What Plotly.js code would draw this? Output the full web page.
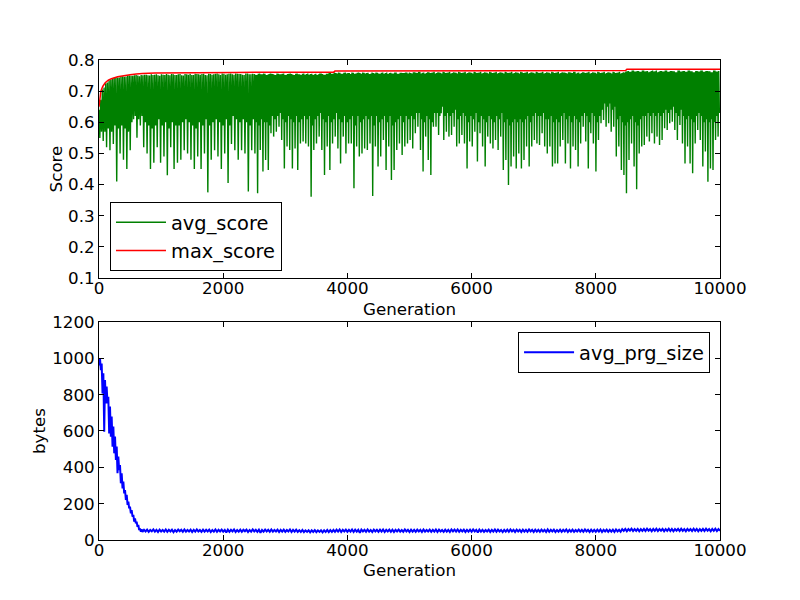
<!DOCTYPE html>
<html>
<head>
<meta charset="utf-8">
<script src="https://cdn.plot.ly/plotly-3.0.1.min.js"></script>
<style>html,body{margin:0;padding:0;background:#fff;}#chart{width:800px;height:600px;}</style>
</head>
<body>
<div id="chart"></div>
<script>
// ---- Data ----
const genMax = 10000;
const segBounds = [0, 2500, 5000, 7500, 10000];

// avg_score band, per segment of generations: top (two readings), spike bottom, solid floor
const avgHighA = [0.640,0.705,0.725,0.735,0.741,0.745,0.744,0.748,0.747,0.750,0.749,0.752,0.748,0.751,0.753,0.750,0.752,0.754,0.749,0.753,0.755,0.751,0.754,0.752,0.755,0.750,0.754,0.756,0.752,0.755,0.753,0.756,0.751,0.755,0.754,0.757,0.752,0.756,0.754,0.757,0.753,0.756,0.755,0.752,0.757,0.754];
const avgHigh2A = [0.672,0.712,0.728,0.737,0.743,0.744,0.747,0.746,0.750,0.749,0.751,0.750,0.752,0.753,0.751,0.754,0.753,0.751,0.754,0.752,0.753,0.755,0.752,0.754,0.751,0.755,0.753,0.752,0.756,0.754,0.755,0.752,0.756,0.753,0.756,0.754,0.757,0.753,0.756,0.754,0.757,0.755,0.753,0.757,0.754,0.756];
const avgLowA = [0.55,0.54,0.52,0.51,0.53,0.41,0.50,0.48,0.45,0.51,0.61,0.55,0.59,0.52,0.50,0.45,0.47,0.52,0.47,0.49,0.43,0.52,0.45,0.47,0.48,0.51,0.50,0.48,0.45,0.49,0.45,0.50,0.375,0.48,0.51,0.49,0.45,0.50,0.405,0.53,0.51,0.48,0.51,0.50,0.378,0.51];
const avgFloorA = [0.57,0.57,0.58,0.57,0.59,0.58,0.59,0.58,0.57,0.60,0.62,0.61,0.62,0.60,0.59,0.58,0.59,0.61,0.59,0.60,0.58,0.60,0.59,0.59,0.60,0.61,0.60,0.59,0.58,0.60,0.59,0.61,0.59,0.60,0.61,0.60,0.59,0.61,0.59,0.62,0.61,0.60,0.61,0.60,0.59,0.61];

const avgHighB = [0.755,0.752,0.757,0.754,0.756,0.753,0.757,0.755,0.752,0.756,0.754,0.757,0.753,0.756,0.755,0.752,0.757,0.754,0.756,0.753,0.757,0.755,0.752,0.756,0.754,0.757,0.753,0.756,0.758,0.755,0.760,0.757,0.759,0.756,0.760,0.758,0.755,0.759,0.757,0.760,0.756,0.759,0.758,0.755,0.760,0.757,0.759,0.756,0.760,0.758,0.755,0.759,0.757,0.760,0.756,0.759,0.758,0.760];
const avgHigh2B = [0.753,0.756,0.754,0.757,0.752,0.755,0.756,0.753,0.757,0.754,0.756,0.752,0.755,0.757,0.753,0.756,0.754,0.752,0.757,0.755,0.753,0.756,0.754,0.752,0.757,0.755,0.753,0.756,0.759,0.757,0.758,0.760,0.756,0.759,0.757,0.758,0.760,0.756,0.759,0.758,0.760,0.757,0.759,0.756,0.758,0.760,0.757,0.759,0.756,0.760,0.758,0.757,0.760,0.756,0.759,0.758,0.760,0.757];
const avgLowB = [0.50,0.372,0.511,0.442,0.479,0.447,0.565,0.554,0.570,0.586,0.543,0.452,0.522,0.511,0.452,0.516,0.447,0.532,0.538,0.532,0.522,0.361,0.511,0.532,0.554,0.511,0.431,0.522,0.447,0.532,0.554,0.516,0.468,0.554,0.500,0.532,0.532,0.388,0.522,0.490,0.500,0.516,0.511,0.532,0.363,0.522,0.458,0.490,0.543,0.447,0.522,0.415,0.447,0.511,0.532,0.495,0.522,0.532];
const avgFloorB = [0.60,0.59,0.61,0.60,0.60,0.59,0.62,0.61,0.62,0.63,0.61,0.60,0.62,0.61,0.60,0.62,0.60,0.61,0.62,0.61,0.62,0.59,0.61,0.62,0.63,0.61,0.60,0.62,0.60,0.61,0.63,0.61,0.60,0.62,0.60,0.61,0.62,0.59,0.62,0.60,0.61,0.62,0.61,0.62,0.59,0.62,0.60,0.61,0.62,0.60,0.62,0.59,0.60,0.61,0.62,0.60,0.62,0.61];

const avgHighC = [0.760,0.757,0.761,0.758,0.762,0.759,0.756,0.761,0.758,0.760,0.757,0.761,0.759,0.762,0.758,0.760,0.757,0.761,0.759,0.762,0.758,0.760,0.757,0.761,0.759,0.762,0.758,0.760,0.757,0.761,0.759,0.762,0.758,0.760,0.757,0.761,0.759,0.762,0.758,0.760,0.757,0.761,0.759,0.762,0.758,0.760,0.757,0.761,0.759,0.762,0.758,0.760,0.757,0.761,0.759,0.762,0.758,0.760,0.757,0.761];
const avgHigh2C = [0.758,0.761,0.759,0.762,0.757,0.760,0.758,0.761,0.759,0.762,0.758,0.760,0.757,0.761,0.759,0.762,0.758,0.760,0.757,0.761,0.759,0.762,0.758,0.760,0.757,0.761,0.759,0.762,0.758,0.760,0.757,0.761,0.759,0.762,0.758,0.760,0.757,0.761,0.759,0.762,0.758,0.760,0.757,0.761,0.759,0.762,0.758,0.760,0.757,0.761,0.759,0.762,0.758,0.760,0.757,0.761,0.759,0.762,0.758,0.760];
const avgLowC = [0.543,0.516,0.565,0.586,0.511,0.442,0.554,0.479,0.431,0.586,0.586,0.559,0.629,0.543,0.570,0.554,0.559,0.586,0.522,0.532,0.559,0.532,0.452,0.538,0.522,0.570,0.474,0.565,0.522,0.458,0.554,0.532,0.516,0.543,0.511,0.554,0.447,0.479,0.399,0.458,0.490,0.452,0.500,0.452,0.479,0.522,0.458,0.522,0.543,0.532,0.527,0.565,0.522,0.500,0.522,0.458,0.468,0.468,0.522,0.543];
const avgFloorC = [0.62,0.61,0.63,0.63,0.61,0.60,0.62,0.61,0.60,0.63,0.63,0.62,0.65,0.62,0.63,0.62,0.63,0.64,0.61,0.62,0.63,0.62,0.60,0.62,0.61,0.63,0.60,0.62,0.61,0.60,0.62,0.61,0.60,0.62,0.61,0.63,0.60,0.61,0.59,0.60,0.61,0.60,0.61,0.60,0.61,0.62,0.60,0.62,0.63,0.62,0.62,0.63,0.61,0.61,0.62,0.60,0.61,0.60,0.62,0.63];

const avgHighD = [0.760,0.757,0.761,0.758,0.762,0.759,0.756,0.761,0.758,0.760,0.757,0.761,0.759,0.762,0.758,0.760,0.757,0.761,0.759,0.762,0.758,0.760,0.757,0.761,0.763,0.765,0.762,0.766,0.763,0.765,0.762,0.766,0.764,0.761,0.765,0.763,0.766,0.762,0.765,0.763,0.766,0.762,0.765,0.764,0.761,0.766,0.763,0.765,0.762,0.766,0.764,0.761,0.765,0.763,0.766,0.762,0.765,0.764,0.761,0.766,0.763];
const avgHigh2D = [0.758,0.761,0.759,0.762,0.757,0.760,0.758,0.761,0.759,0.762,0.758,0.760,0.757,0.761,0.759,0.762,0.758,0.760,0.757,0.761,0.759,0.762,0.758,0.760,0.764,0.762,0.766,0.763,0.765,0.762,0.766,0.763,0.765,0.762,0.766,0.764,0.761,0.765,0.763,0.766,0.762,0.765,0.764,0.761,0.766,0.763,0.765,0.762,0.766,0.764,0.761,0.765,0.763,0.766,0.762,0.765,0.764,0.761,0.766,0.763,0.765];
const avgLowD = [0.468,0.532,0.452,0.522,0.511,0.458,0.532,0.586,0.538,0.452,0.565,0.532,0.442,0.543,0.597,0.607,0.586,0.597,0.570,0.586,0.490,0.522,0.447,0.431,0.372,0.479,0.532,0.458,0.385,0.500,0.522,0.527,0.554,0.538,0.565,0.532,0.554,0.527,0.543,0.581,0.575,0.597,0.602,0.575,0.543,0.591,0.532,0.468,0.522,0.468,0.436,0.532,0.575,0.543,0.458,0.506,0.409,0.452,0.447,0.543,0.554];
const avgFloorD = [0.61,0.62,0.60,0.62,0.61,0.60,0.62,0.63,0.62,0.60,0.63,0.62,0.60,0.62,0.64,0.66,0.65,0.66,0.64,0.65,0.61,0.62,0.60,0.59,0.60,0.61,0.62,0.60,0.59,0.61,0.62,0.62,0.63,0.62,0.63,0.62,0.63,0.62,0.63,0.64,0.63,0.64,0.65,0.63,0.62,0.64,0.62,0.61,0.62,0.61,0.60,0.62,0.63,0.62,0.60,0.61,0.60,0.61,0.60,0.62,0.63];

// max_score
const maxGen = [0,30,60,100,150,200,300,400,500,600,700,900,1200,1600,2200,3000,3780,3800,5000,6500,8480,8500,10000];
const maxVal = [0.650,0.700,0.715,0.727,0.735,0.740,0.746,0.750,0.753,0.755,0.757,0.758,0.759,0.760,0.760,0.761,0.761,0.765,0.765,0.766,0.766,0.770,0.770];

// avg_prg_size: early decline
const prgEarlyGen = [0,16,30,43,57,70,84,97,110,123,137,150,164,177,191,204,218,231,245,258,272,285,298,311,325,338,352,365,379,392,406,419,433,446,460,473,486,499,513,526,540,553,567,580,593,606,620,633,647,660,674,687,700];
const prgEarlyVal = [960,1000,935,972,807,918,596,880,752,844,752,789,587,734,569,679,514,624,477,569,440,514,367,459,385,413,312,367,284,321,257,275,220,248,193,211,174,183,147,165,128,138,101,119,92,101,73,83,55,64,45,59,45];
// avg_prg_size: plateau, every 25 generations from 725 to 10000
const prgLateStart = 725, prgLateStep = 25;
const prgLateVal = [
56,47,57,45,55,48,58,46,56,44,57,47,55,46,58,45,56,47,57,43,55,46,57,48,56,45,58,46,55,47,57,44,56,46,58,47,55,45,57,46,
56,47,57,44,55,46,58,45,56,47,57,46,55,41,57,45,56,47,58,44,55,46,57,45,56,48,57,44,55,46,58,47,56,45,57,40,55,46,57,47,
56,45,58,46,55,47,57,44,56,46,57,45,55,47,58,44,56,46,57,45,54,44,55,43,53,45,54,42,53,44,54,43,53,45,54,42,53,44,55,43,
54,44,56,45,57,46,58,44,56,47,57,45,56,46,58,44,57,46,56,39,57,47,56,45,58,46,55,44,57,47,56,45,57,46,58,44,56,47,57,45,
57,44,56,47,57,46,55,45,58,47,56,44,57,46,56,45,57,47,56,44,58,46,55,47,57,45,56,46,58,44,57,47,55,45,57,46,56,44,58,47,
57,46,58,45,56,47,57,44,56,46,57,45,58,47,56,41,57,46,56,45,55,47,57,44,56,46,58,45,57,47,55,44,56,46,57,45,58,47,56,44,
57,47,56,44,57,46,56,45,58,47,56,44,57,46,56,45,57,47,56,44,58,45,56,47,57,44,55,46,57,45,56,47,58,44,56,46,57,45,55,47,
57,46,56,45,58,47,56,44,57,46,56,45,57,46,58,44,56,47,57,45,56,46,57,44,58,47,56,45,60,50,61,48,60,51,62,49,60,50,61,48,
60,50,61,49,62,51,60,48,61,50,62,49,60,51,61,48,60,50,62,49,61,48,60,51,61,49,62,50,60,48,61,51,60,49,62,50,61,48,60,50,
61,49,62,51,60,48,61,50,62,49,60,51];

const xTicks = [0,2000,4000,6000,8000,10000];

// ---- Build traces ----
const avgX = [], avgY = [];
[[avgHighA,avgLowA,avgHigh2A,avgFloorA],[avgHighB,avgLowB,avgHigh2B,avgFloorB],
 [avgHighC,avgLowC,avgHigh2C,avgFloorC],[avgHighD,avgLowD,avgHigh2D,avgFloorD]].forEach((seg, s) => {
  const start = segBounds[s], end = segBounds[s+1];
  const n = seg[0].length, step = (end - start) / n;
  for (let i = 0; i < n; i++) {
    for (let k = 0; k < 4; k++) {
      avgX.push(start + (i + k/4) * step);
      avgY.push(seg[k][i]);
    }
  }
});

const prgX = prgEarlyGen.slice(), prgY = prgEarlyVal.slice();
prgLateVal.forEach((v, i) => { prgX.push(prgLateStart + i*prgLateStep); prgY.push(v); });

const traces = [
  {x: avgX, y: avgY, type:'scatter', mode:'lines', name:'avg_score', line:{color:'#008000', width:1.4}, xaxis:'x', yaxis:'y', legend:'legend'},
  {x: maxGen, y: maxVal, type:'scatter', mode:'lines', name:'max_score', line:{color:'#ff0000', width:1.5}, xaxis:'x', yaxis:'y', legend:'legend'},
  {x: prgX, y: prgY, type:'scatter', mode:'lines', name:'avg_prg_size', line:{color:'#0000ff', width:2}, xaxis:'x2', yaxis:'y2', legend:'legend2'}
];

const axisCommon = {
  ticks:'inside', ticklen:5, tickwidth:1, tickcolor:'black',
  showline:true, linecolor:'black', linewidth:1, mirror:'ticks',
  showgrid:false, zeroline:false,
  tickfont:{family:'DejaVu Sans', size:16.7, color:'black'}
};
const titleFont = {family:'DejaVu Sans', size:16.7, color:'black'};
const legendFont = {family:'DejaVu Sans', size:19.4, color:'black'};

const layout = {
  width:800, height:600,
  margin:{l:99, r:80, t:60, b:60},
  paper_bgcolor:'white', plot_bgcolor:'white',
  font:{family:'DejaVu Sans', size:16.7, color:'black'},
  xaxis: Object.assign({}, axisCommon, {domain:[0,1], anchor:'y', range:[0,genMax], tickvals:xTicks, tickformat:'d', ticklabelstandoff:-5, title:{text:'Generation', font:titleFont, standoff:6}}),
  yaxis: Object.assign({}, axisCommon, {domain:[0.5458,1], anchor:'x', range:[0.1,0.8], dtick:0.1, tick0:0.1, tickformat:'.1f', title:{text:'Score', font:titleFont, standoff:1}}),
  xaxis2: Object.assign({}, axisCommon, {domain:[0,1], anchor:'y2', range:[0,genMax], tickvals:xTicks, tickformat:'d', ticklabelstandoff:-5, title:{text:'Generation', font:titleFont, standoff:5}}),
  yaxis2: Object.assign({}, axisCommon, {domain:[0,0.4542], anchor:'x2', range:[0,1200], dtick:200, tick0:0, tickformat:'d', title:{text:'bytes', font:titleFont, standoff:2}}),
  legend:{x:0.0177, y:0.704, xanchor:'left', yanchor:'top', bordercolor:'black', borderwidth:1, bgcolor:'white', itemwidth:50, font:legendFont},
  legend2:{x:0.984, y:0.433, xanchor:'right', yanchor:'top', bordercolor:'black', borderwidth:1, bgcolor:'white', itemwidth:50, font:legendFont},
  showlegend:true
};

Plotly.newPlot('chart', traces, layout, {staticPlot:true, displayModeBar:false});
</script>
</body>
</html>
